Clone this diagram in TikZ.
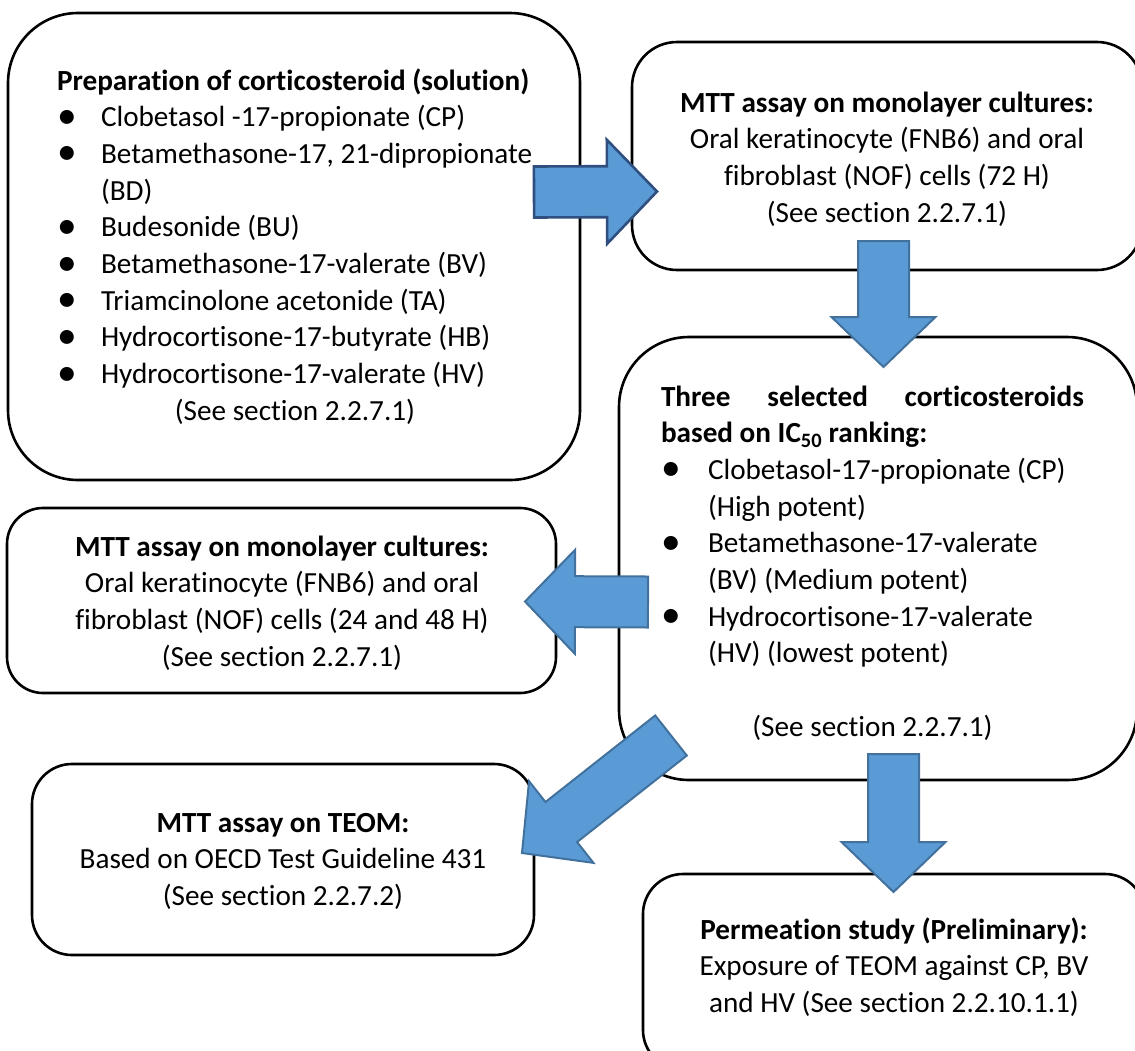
\documentclass[tikz,border=0pt]{standalone}
\usepackage{fontspec}
\setmainfont{Carlito}[Ligatures=NoCommon]
\usetikzlibrary{calc}
\definecolor{afill}{HTML}{5B9BD5}
\definecolor{aline}{HTML}{41719C}
\definecolor{alinedark}{HTML}{2F4F80}
\newlength\bulw
\setlength\bulw{44pt}
\newcommand\tblock[2]{\vtop{\hsize=#1\relax\parindent=0pt\parskip=0pt #2\par}}
\newcommand\bul[1]{\leavevmode\makebox[\bulw][l]{\raisebox{-1.5pt}{\scalebox{1.35}{\textbullet}}}\mbox{#1}}
\newcommand\ind[1]{\leavevmode\hspace*{\bulw}\mbox{#1}}
\tikzset{
  box/.style={draw=black, line width=2.6pt, fill=white, rounded corners=#1, inner sep=0pt},
  txt/.style={inner sep=0pt, anchor=base, font=\fontsize{29.2}{36.7}\selectfont},
  barrow/.style={fill=afill, draw=aline, line width=2pt, line join=miter},
}
% block arrow from #2 to #3: shaft half-width 25.5, head half-width 52, head length 50
\newcommand\blockarrow[3][]{%
  \coordinate (#2-#3-h) at ($(#3)!50pt!(#2)$);
  \draw[barrow,#1] ($(#2)!25.5pt!90:(#3)$)
     -- ($(#2-#3-h)!25.5pt!90:(#3)$)
     -- ($(#2-#3-h)!52pt!90:(#3)$)
     -- (#3)
     -- ($(#2-#3-h)!52pt!-90:(#3)$)
     -- ($(#2-#3-h)!25.5pt!-90:(#3)$)
     -- ($(#2)!25.5pt!-90:(#3)$) -- cycle;}
\begin{document}
\begin{tikzpicture}[x=1pt,y=-1pt]
\useasboundingbox (0,0) rectangle (1135,1050);
\clip (0,0) rectangle (1135,1050);

% ---------- boxes ----------
\node[box=70pt, minimum width=572pt, minimum height=467pt] (b1) at (294,246.5) {};
\node[box=45pt, minimum width=510pt, minimum height=228pt] (b2) at (887,156) {};
\node[box=70pt, minimum width=518pt, minimum height=443pt] (b3) at (878,558.5) {};
\node[box=36pt, minimum width=549pt, minimum height=185pt] (b4) at (281.5,600.5) {};
\node[box=40pt, minimum width=502pt, minimum height=191pt] (b5) at (283,859.5) {};
\node[box=40pt, minimum width=502pt, minimum height=196pt] (b6) at (894,972) {};

% ---------- texts ----------
\node[txt] (t1) at (295,90) {\tblock{476pt}{\raggedright
\mbox{\textbf{Preparation of corticosteroid (solution)}}\\
\bul{Clobetasol -17-propionate (CP)}\\
\bul{Betamethasone-17, 21-dipropionate}\\
\ind{(BD)}\\
\bul{Budesonide (BU)}\\
\bul{Betamethasone-17-valerate (BV)}\\
\bul{Triamcinolone acetonide (TA)}\\
\bul{Hydrocortisone-17-butyrate (HB)}\\
\bul{Hydrocortisone-17-valerate (HV)}\\
\makebox[\hsize]{(See section 2.2.7.1)}}};

\node[txt] (t2) at (887,112) {\tblock{500pt}{\centering
\textbf{MTT assay on monolayer cultures:}\\
Oral keratinocyte (FNB6) and oral\\
fibroblast (NOF) cells (72 H)\\
(See section 2.2.7.1)}};

\node[txt] (t3) at (872.5,406) {\tblock{423pt}{\raggedright\setlength\bulw{47pt}%
\makebox[\hsize][s]{\textbf{Three selected corticosteroids}}\\
\mbox{\textbf{based on IC\textsubscript{50} ranking:}}\\
\bul{Clobetasol-17-propionate (CP)}\\
\ind{(High potent)}\\
\bul{Betamethasone-17-valerate}\\
\ind{(BV) (Medium potent)}\\
\bul{Hydrocortisone-17-valerate}\\
\ind{(HV) (lowest potent)}\\
\mbox{}\\
\makebox[\hsize]{(See section 2.2.7.1)}}};

\node[txt] (t4) at (282,556) {\tblock{540pt}{\centering
\textbf{MTT assay on monolayer cultures:}\\
Oral keratinocyte (FNB6) and oral\\
fibroblast (NOF) cells (24 and 48 H)\\
(See section 2.2.7.1)}};

\node[txt] (t5) at (283,832) {\tblock{500pt}{\centering
\textbf{MTT assay on TEOM:}\\
Based on OECD Test Guideline 431\\
(See section 2.2.7.2)}};

\node[txt] (t6) at (894,939) {\tblock{500pt}{\centering
\textbf{Permeation study (Preliminary):}\\
Exposure of TEOM against CP, BV\\
and HV (See section 2.2.10.1.1)}};

% ---------- block arrows ----------
\coordinate (a1s) at (534,192);   \coordinate (a1e) at (657,191.5);
\coordinate (a2s) at (883.5,241); \coordinate (a2e) at (883.5,367);
\coordinate (a3s) at (648,602);   \coordinate (a3e) at (525,601.5);
\coordinate (a4s) at (671,735.5); \coordinate (a4e) at (522,853);
\coordinate (a5s) at (893.5,754); \coordinate (a5e) at (893.5,892);
\blockarrow[draw=alinedark,line width=2.6pt]{a1s}{a1e}
\blockarrow{a2s}{a2e}
\blockarrow{a3s}{a3e}
\blockarrow{a4s}{a4e}
\blockarrow{a5s}{a5e}
\end{tikzpicture}
\end{document}
